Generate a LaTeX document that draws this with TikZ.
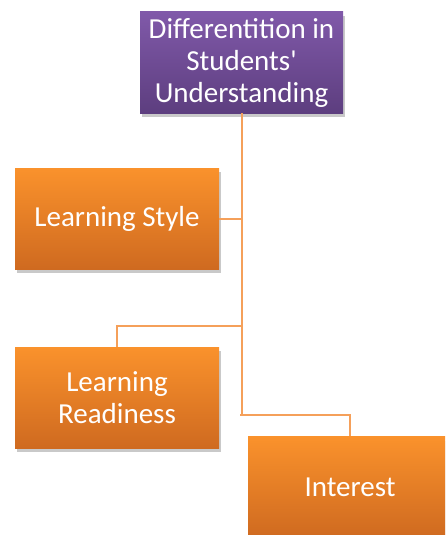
\documentclass[tikz,border=0pt]{standalone}
\usepackage{fontspec}
\setmainfont{Carlito}
\usetikzlibrary{shadows}
\definecolor{purpT}{HTML}{8059A9}
\definecolor{purpB}{HTML}{5D3E7F}
\definecolor{orT}{HTML}{FA922C}
\definecolor{orB}{HTML}{CF6A20}
\definecolor{lineor}{HTML}{F5A05A}
\tikzset{
  box/.style={minimum width=204pt, minimum height=101pt, inner sep=1pt,
    text=white, align=center, font=\fontsize{29}{32}\selectfont,
    drop shadow={shadow xshift=1.5pt, shadow yshift=-4pt, opacity=0.3, fill=black!70}},
  purplebox/.style={box, top color=purpT, bottom color=purpB},
  orangebox/.style={box, top color=orT, bottom color=orB},
  conn/.style={draw=lineor, line width=2pt}
}
\begin{document}
\begin{tikzpicture}[x=1pt,y=-1pt]
\useasboundingbox (0,0) rectangle (445,535);
\clip (0,0) rectangle (445,535);
\node[purplebox, minimum width=203pt] (top) at (241.5,62.5) {Differentition in\\Students\textquotesingle\\Understanding};
\node[orangebox] (ls) at (117,218.5) {Learning Style};
\node[orangebox] (lr) at (117,397.5) {Learning\\Readiness};
\node[orangebox] (int) at (350,487) {Interest};
\coordinate (j2) at (240,326);
\coordinate (j3) at (240,415);
\draw[conn] (top.south) |- (ls.east);
\draw[conn] (top.south) |- (j2) -| (lr.north);
\draw[conn] (top.south) |- (j3) -| (int.north);
\end{tikzpicture}
\end{document}
